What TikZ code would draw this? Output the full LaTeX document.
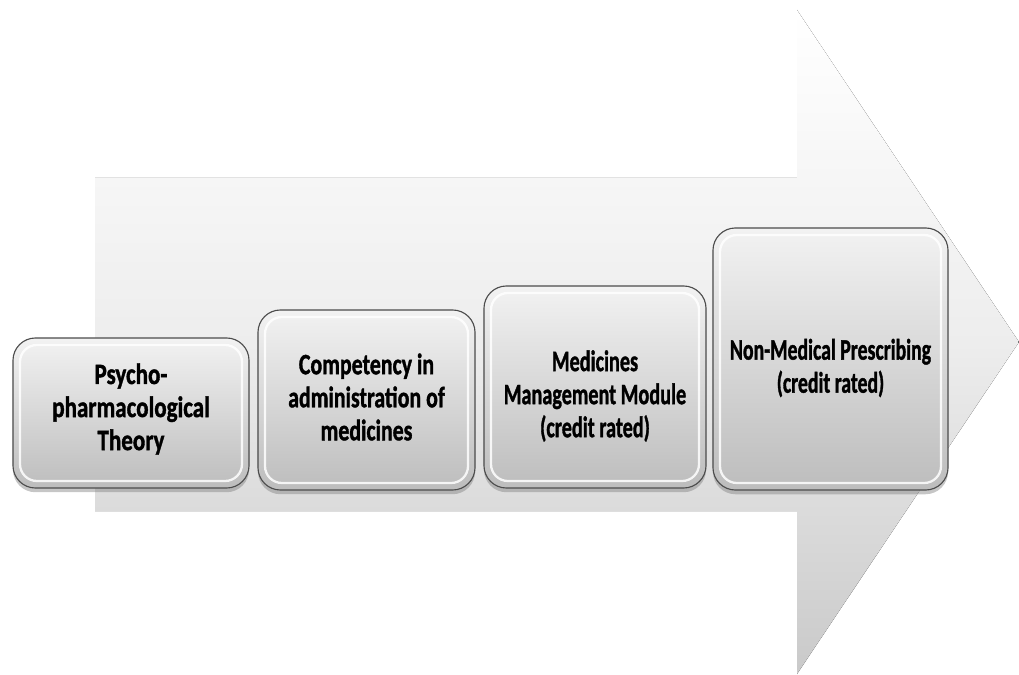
\documentclass[tikz,border=0pt]{standalone}
\usepackage{fontspec}
\setmainfont{Carlito}[BoldFeatures={FakeBold=1.5}]
\usetikzlibrary{shadows}
\begin{document}
\begin{tikzpicture}[x=0.025cm, y=-0.025cm,
	stage/.style={rounded corners=16pt, draw=gray!60!black, line width=0.8pt,
		top color=gray!10, bottom color=gray!52,
		drop shadow={shadow xshift=0pt, shadow yshift=-3pt, opacity=0.45},
		path picture={\draw[white, line width=1.6pt, opacity=0.85, rounded corners=12pt]
			([shift={(5pt,-5pt)}]path picture bounding box.north west) rectangle
			([shift={(-5pt,5pt)}]path picture bounding box.south east);}},
	stagetext/.style={align=center, transform shape,
		font=\fontsize{21}{23.5}\selectfont\bfseries}
	]
	\useasboundingbox (0,0) rectangle (1019,675);
	
	\fill[top color=white, bottom color=gray!42, middle color=gray!14]
		(95,178) -- (797,178) -- (797,10) -- (1019,342) -- (797,674) -- (797,511) -- (95,511) -- cycle;
	
	\node [stage, minimum width=5.9cm, minimum height=3.75cm] (psycho) at (131,413) {};
	\node [stage, minimum width=5.425cm, minimum height=4.5cm] (comp) at (366.5,400) {};
	\node [stage, minimum width=5.55cm, minimum height=5.05cm] (manage) at (595,387) {};
	\node [stage, minimum width=5.875cm, minimum height=6.55cm] (prescr) at (830.5,359) {};
	
	\node [stagetext, xscale=0.78] (psychotext) at ([yshift=0.1cm]psycho.center) {Psycho-\\pharmacological\\Theory};
	\node [stagetext, xscale=0.74] (comptext) at ([yshift=0.075cm]comp.center) {Competency in\\administration of\\medicines};
	\node [stagetext, xscale=0.685] (managetext) at ([yshift=-0.225cm]manage.center) {Medicines\\Management Module\\(credit rated)};
	\node [stagetext, xscale=0.67] (prescrtext) at ([yshift=-0.225cm]prescr.center) {Non-Medical Prescribing\\(credit rated)};
\end{tikzpicture}
\end{document}
